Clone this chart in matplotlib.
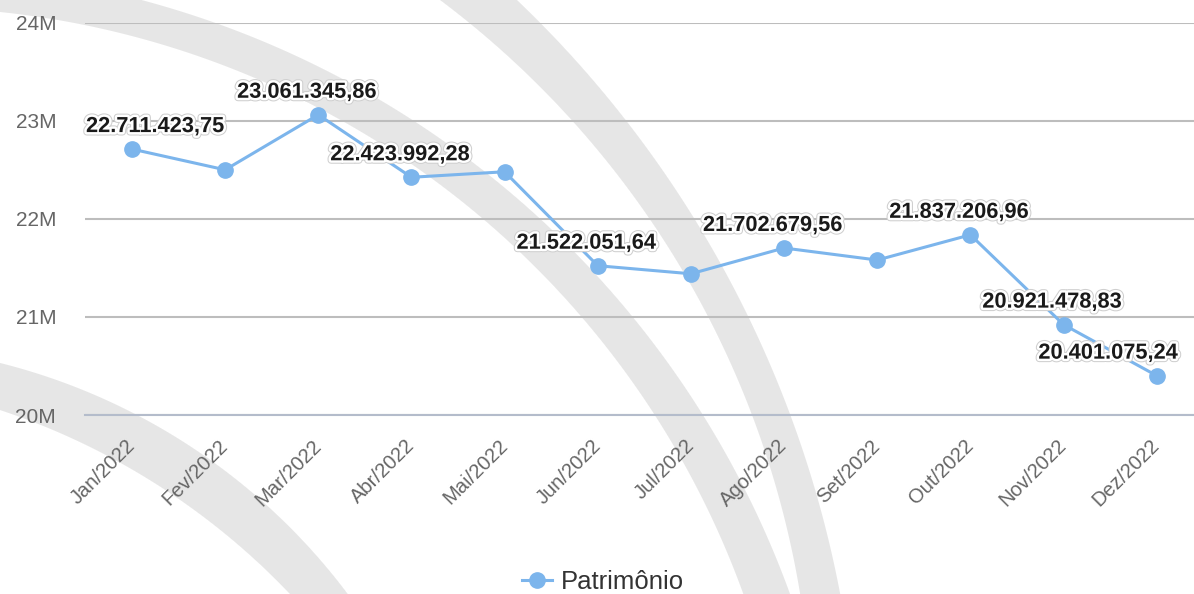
import numpy as np
import matplotlib
matplotlib.use('Agg')
import matplotlib.pyplot as plt
import matplotlib.patheffects as pe

plt.rcParams['font.family'] = ['Liberation Sans', 'DejaVu Sans']

# ---------------- data ----------------
months = ['Jan/2022', 'Fev/2022', 'Mar/2022', 'Abr/2022', 'Mai/2022', 'Jun/2022',
          'Jul/2022', 'Ago/2022', 'Set/2022', 'Out/2022', 'Nov/2022', 'Dez/2022']
patrimonio = [22711423.75, 22500000.00, 23061345.86, 22423992.28, 22480000.00, 21522051.64,
              21440000.00, 21702679.56, 21580000.00, 21837206.96, 20921478.83, 20401075.24]
show_label = [True, False, True, True, False, True, False, True, False, True, True, True]
y_ticks = [20e6, 21e6, 22e6, 23e6, 24e6]
y_tick_labels = ['20M', '21M', '22M', '23M', '24M']
series_name = 'Patrimônio'


def fmt_br(v):
    s = f"{v:,.2f}"
    return s.replace(',', 'X').replace('.', ',').replace('X', '.')


W, H = 1194, 594
fig = plt.figure(figsize=(W / 100, H / 100), dpi=100)

# ---------------- background watermark (decorative arcs) ----------------
bg = fig.add_axes([0, 0, 1, 1], zorder=0)
bg.set_axis_off()
yy, xx = np.mgrid[0:H, 0:W].astype(float)
yy += 0.5
xx += 0.5
bands = [
    ((-103.0, 918.0, 950.0), (-93.1, 896.6, 889.5)),
    ((-246.4, 800.3, 1106.0), (-119.2, 745.2, 931.7)),
    ((-151.9, 968.8, 624.6), (-223.0, 1082.0, 708.0)),
]


def crescent(outer, inner):
    cxo, cyo, ro = outer
    cxi, cyi, ri = inner
    do = np.hypot(xx - cxo, yy - cyo)
    di = np.hypot(xx - cxi, yy - cyi)
    return np.clip(ro - do + 0.5, 0, 1) * np.clip(di - ri + 0.5, 0, 1)


alpha = np.zeros((H, W))
for o, i in bands:
    alpha = np.maximum(alpha, crescent(o, i))
rgba = np.ones((H, W, 4))
rgba[..., :3] = 230 / 255
rgba[..., 3] = alpha
bg.imshow(rgba, extent=(0, W, H, 0), interpolation='nearest', aspect='auto')
bg.set_xlim(0, W)
bg.set_ylim(H, 0)

# ---------------- main chart ----------------
left_px, right_px, top_px, bot_px = 85.4, 1203.3, 22.7, 415.0
ax = fig.add_axes([left_px / W, 1 - bot_px / H, (right_px - left_px) / W, (bot_px - top_px) / H], zorder=1)
ax.patch.set_alpha(0)

x = np.arange(len(months))
line, = ax.plot(x, patrimonio, color='#7cb5ec', lw=2.2, marker='o', ms=11,
                zorder=3, clip_on=False, label=series_name)

ax.set_xlim(-0.5, len(months) - 0.5)
ax.set_ylim(y_ticks[0], y_ticks[-1])
ax.set_yticks(y_ticks)
ax.set_yticklabels(y_tick_labels)
ax.set_xticks(x)
ax.set_xticklabels(months, rotation=45, ha='right', va='center', rotation_mode='anchor')

ax.grid(axis='y', color='#bdbdbd', lw=1.5, zorder=1)
ax.grid(axis='x', visible=False)
for s in ['top', 'right', 'left']:
    ax.spines[s].set_visible(False)
ax.spines['bottom'].set_color('#b4bccb')
ax.spines['bottom'].set_linewidth(1.5)
ax.set_axisbelow(True)

ax.tick_params(axis='both', length=0, labelsize=14.5, colors='#666666')
ax.tick_params(axis='y', labelsize=15, pad=21)
ax.tick_params(axis='x', pad=20)

# ---------------- data labels ----------------
effects = [pe.Stroke(linewidth=5, foreground='#cfcfcf'),
           pe.Stroke(linewidth=3.5, foreground='white'),
           pe.Normal()]
texts = []
for i, (v, s) in enumerate(zip(patrimonio, show_label)):
    if s:
        t = ax.annotate(fmt_br(v), (i, v), xytext=(-11.5 * 0.72, 17 * 0.72),
                        textcoords='offset points', ha='center', va='baseline',
                        fontsize=15.7, fontweight='bold', color='#1a1a1a',
                        path_effects=effects, zorder=5)
        texts.append(t)

fig.canvas.draw()
r = fig.canvas.get_renderer()
lo, hi = 86, 1178
for t in texts:
    bb = t.get_window_extent(r)
    dx, dy = t.xyann
    if bb.x0 < lo:
        t.xyann = (dx + (lo - bb.x0) * 0.72, dy)
    elif bb.x1 > hi:
        t.xyann = (dx - (bb.x1 - hi) * 0.72, dy)

# ---------------- legend ----------------
fig.legend(handles=[line], labels=[series_name], loc='center',
           bbox_to_anchor=(603 / W, 1 - 582 / H), frameon=False, fontsize=18.5,
           handlelength=1.2, handletextpad=0.35, labelcolor='#333333')

fig.savefig('out.png', dpi=100)
